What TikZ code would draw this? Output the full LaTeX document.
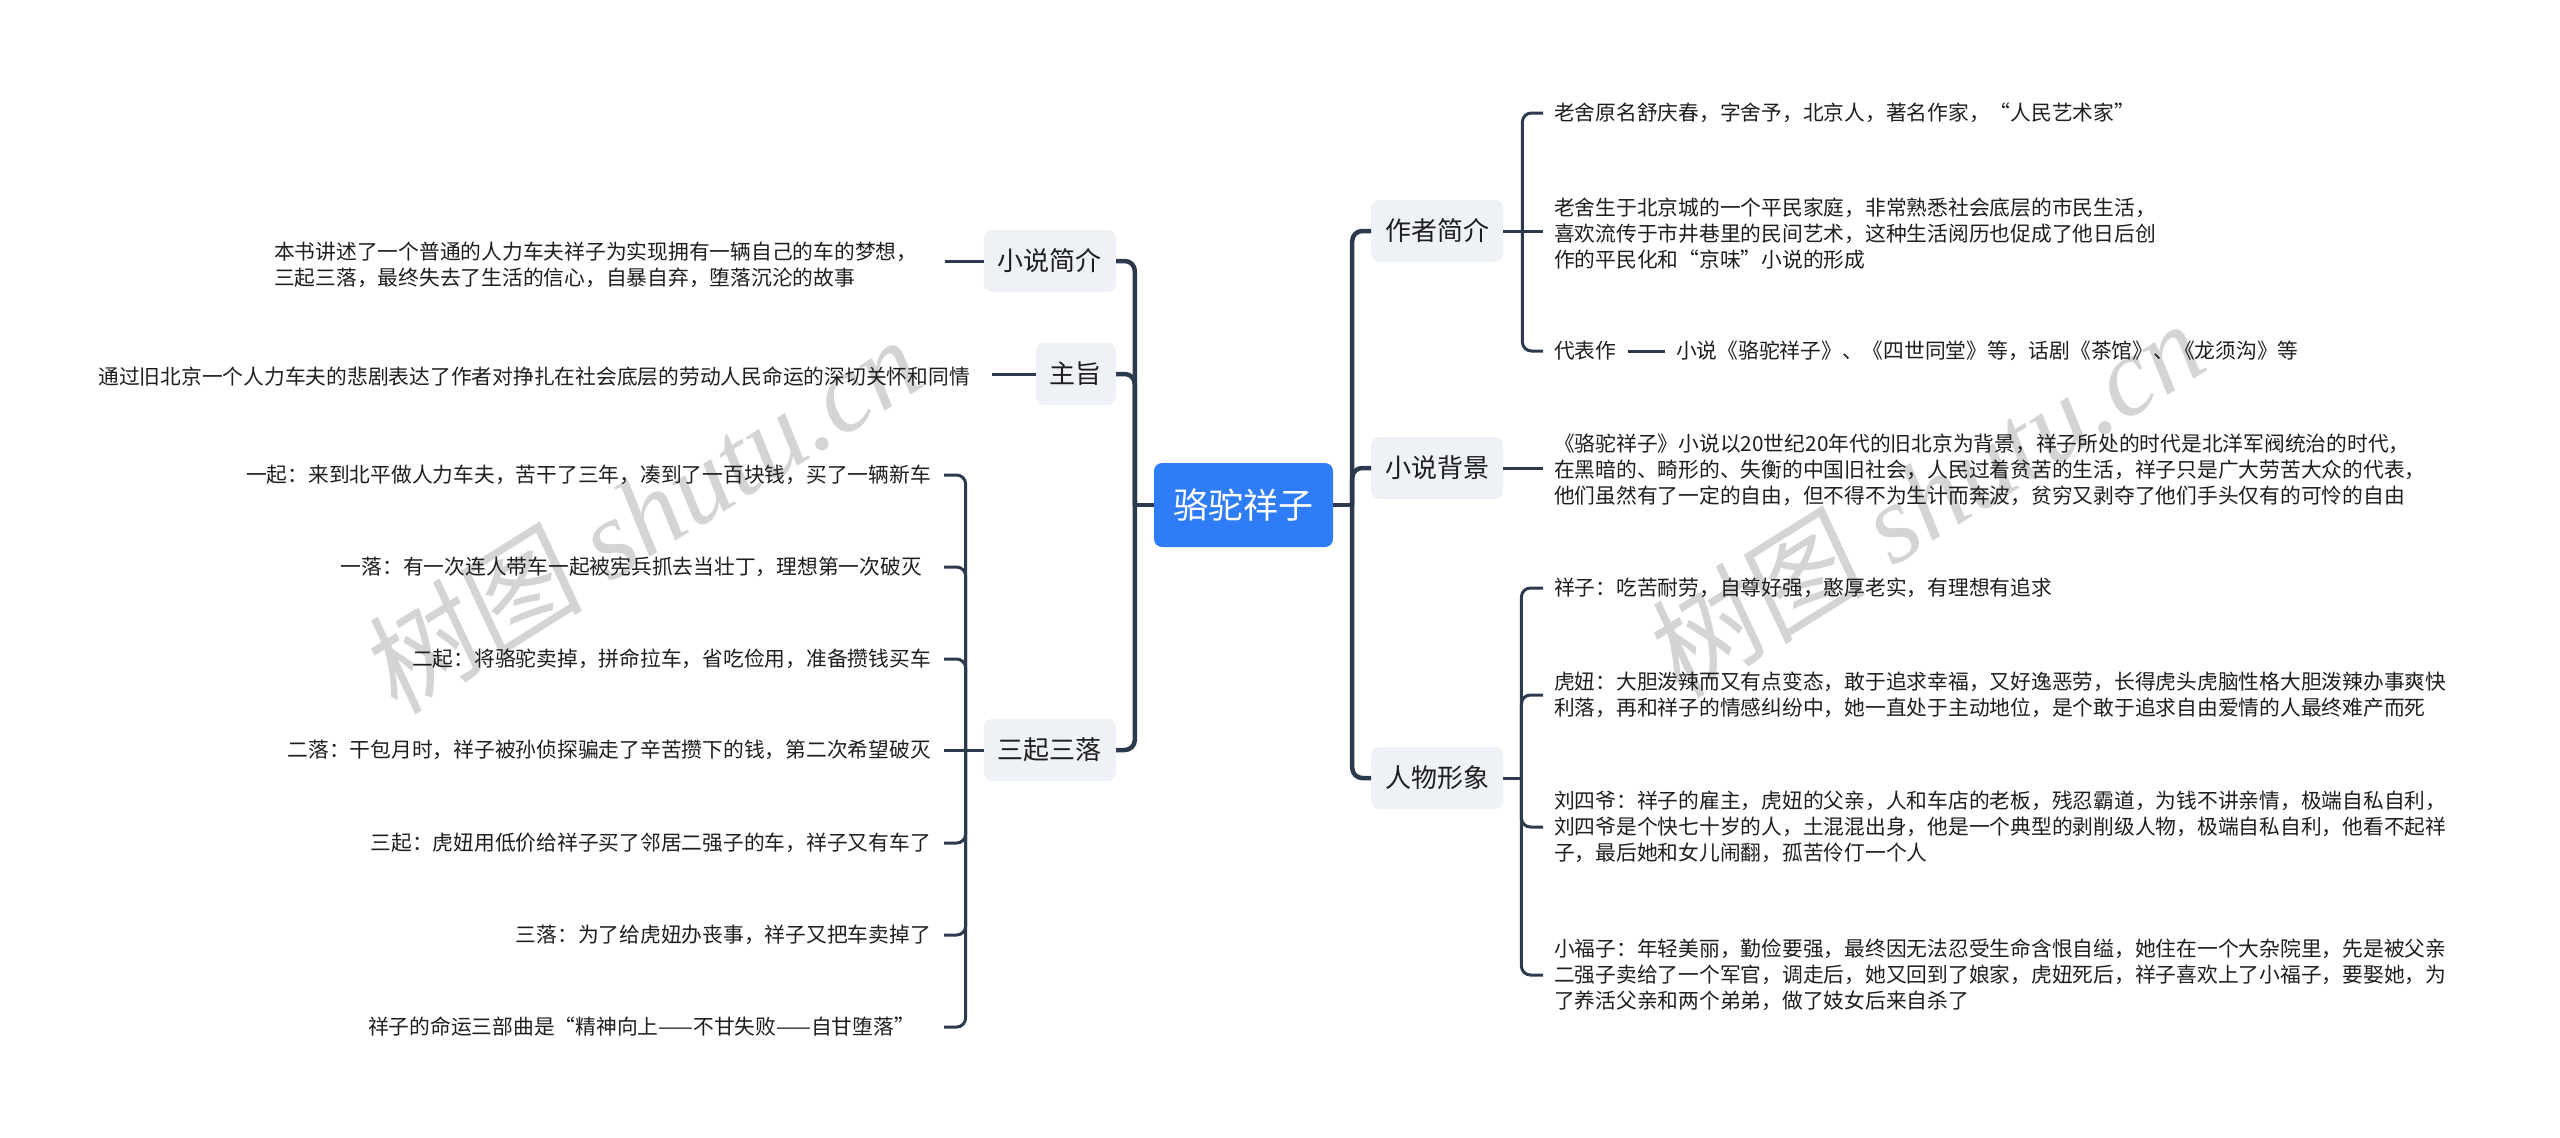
\documentclass[tikz,border=0pt]{standalone}
\usepackage{fontspec}
\newfontfamily\cjk{Noto Sans CJK SC}
\newfontfamily\wmcjk[FakeSlant=0.12]{Noto Sans CJK SC}
\newfontfamily\wmlat{Liberation Serif}
\usetikzlibrary{calc}
\definecolor{rootblue}{HTML}{2F7DF6}
\definecolor{topicfill}{HTML}{EEF1F5}
\definecolor{linecol}{HTML}{2C3A4D}
\definecolor{txt}{HTML}{1E1E1E}
\definecolor{wmgray}{HTML}{D4D4D4}
\begin{document}
\begin{tikzpicture}[x=1pt,y=-1pt,
  rootnode/.style={fill=rootblue, rounded corners=8pt, minimum width=179pt, minimum height=84pt, text=white, font=\cjk\fontsize{35}{40}\selectfont, inner sep=0pt},
  topic/.style={fill=topicfill, rounded corners=8pt, minimum height=62pt, inner xsep=14pt, text=txt, font=\cjk\fontsize{26}{30}\selectfont},
  leaf/.style={inner xsep=11pt, inner ysep=2pt, text=txt, align=left, font=\cjk\fontsize{20.75}{26}\selectfont},
  leafr/.style={leaf, inner xsep=13pt, align=right},
  mainline/.style={draw=linecol, line width=4.5pt, rounded corners=10pt},
  subline/.style={draw=linecol, line width=3pt, rounded corners=9pt},
  wm/.style={text=wmgray, rotate=32, inner sep=0pt}
]
\useasboundingbox (0,0) rectangle (2560,1138);

% watermarks
\node[wm] (wm1) at (640,514) {\wmcjk\fontsize{112}{112}\selectfont 树图\hspace{0.25em}\wmlat\itshape shutu.cn};
\node[wm] (wm2) at (1923,498) {\wmcjk\fontsize{112}{112}\selectfont 树图\hspace{0.25em}\wmlat\itshape shutu.cn};

% root
\node[rootnode] (root) at (1243.5,505) {骆驼祥子};

% right topics
\node[topic, anchor=west] (a1) at (1371,231) {作者简介};
\node[topic, anchor=west] (a2) at (1371,468) {小说背景};
\node[topic, anchor=west] (a3) at (1371,778) {人物形象};

% left topics
\node[topic, anchor=east] (b1) at (1116,261) {小说简介};
\node[topic, anchor=east] (b2) at (1116,374) {主旨};
\node[topic, anchor=east] (b3) at (1116,750) {三起三落};

% right leaves
\node[leaf, anchor=west] (c11) at (1543,113) {老舍原名舒庆春，字舍予，北京人，著名作家，“人民艺术家”};
\node[leaf, anchor=west] (c12) at (1543,234) {老舍生于北京城的一个平民家庭，非常熟悉社会底层的市民生活，\\喜欢流传于市井巷里的民间艺术，这种生活阅历也促成了他日后创\\作的平民化和“京味”小说的形成};
\node[leaf, anchor=west] (c13) at (1543,351) {代表作};
\node[leaf, anchor=west] (c14) at (1665,351) {小说《骆驼祥子》、《四世同堂》等，话剧《茶馆》、《龙须沟》等};
\node[leaf, anchor=west] (c21) at (1543,470) {《骆驼祥子》小说以20世纪20年代的旧北京为背景，祥子所处的时代是北洋军阀统治的时代，\\在黑暗的、畸形的、失衡的中国旧社会，人民过着贫苦的生活，祥子只是广大劳苦大众的代表，\\他们虽然有了一定的自由，但不得不为生计而奔波，贫穷又剥夺了他们手头仅有的可怜的自由};
\node[leaf, anchor=west] (c31) at (1543,588) {祥子：吃苦耐劳，自尊好强，憨厚老实，有理想有追求};
\node[leaf, anchor=west] (c32) at (1543,695) {虎妞：大胆泼辣而又有点变态，敢于追求幸福，又好逸恶劳，长得虎头虎脑性格大胆泼辣办事爽快\\利落，再和祥子的情感纠纷中，她一直处于主动地位，是个敢于追求自由爱情的人最终难产而死};
\node[leaf, anchor=west] (c33) at (1543,827) {刘四爷：祥子的雇主，虎妞的父亲，人和车店的老板，残忍霸道，为钱不讲亲情，极端自私自利，\\刘四爷是个快七十岁的人，土混混出身，他是一个典型的剥削级人物，极端自私自利，他看不起祥\\子，最后她和女儿闹翻，孤苦伶仃一个人};
\node[leaf, anchor=west] (c34) at (1543,975) {小福子：年轻美丽，勤俭要强，最终因无法忍受生命含恨自缢，她住在一个大杂院里，先是被父亲\\二强子卖给了一个军官，调走后，她又回到了娘家，虎妞死后，祥子喜欢上了小福子，要娶她，为\\了养活父亲和两个弟弟，做了妓女后来自杀了};

% left leaves
\node[leaf, anchor=west] (d11) at (263,265) {本书讲述了一个普通的人力车夫祥子为实现拥有一辆自己的车的梦想，\\三起三落，最终失去了生活的信心，自暴自弃，堕落沉沦的故事};
\node[leaf, anchor=east] (d21) at (981,377) {通过旧北京一个人力车夫的悲剧表达了作者对挣扎在社会底层的劳动人民命运的深切关怀和同情};
\node[leafr, anchor=east] (d31) at (944,475) {一起：来到北平做人力车夫，苦干了三年，凑到了一百块钱，买了一辆新车};
\node[leafr, anchor=east] (d32) at (944,567) {一落：有一次连人带车一起被宪兵抓去当壮丁，理想第一次破灭\hspace{9pt}};
\node[leafr, anchor=east] (d33) at (944,659) {二起：将骆驼卖掉，拼命拉车，省吃俭用，准备攒钱买车};
\node[leafr, anchor=east] (d34) at (944,750) {二落：干包月时，祥子被孙侦探骗走了辛苦攒下的钱，第二次希望破灭};
\node[leafr, anchor=east] (d35) at (944,843) {三起：虎妞用低价给祥子买了邻居二强子的车，祥子又有车了};
\node[leafr, anchor=east] (d36) at (944,935) {三落：为了给虎妞办丧事，祥子又把车卖掉了};
\node[leafr, anchor=east] (d37) at (944,1027) {祥子的命运三部曲是“精神向上——不甘失败——自甘堕落”\hspace{16pt}};

% junction coordinates
\coordinate (jr) at ($(root.east)+(19,0)$);
\coordinate (jl) at ($(root.west)+(-19,0)$);
\coordinate (ja1) at ($(a1.east)+(19,0)$);
\coordinate (ja3) at ($(a3.east)+(18,0)$);
\coordinate (jb3) at ($(b3.west)+(-18,0)$);

% main connectors
\draw[mainline] (root.east) -- (jr);
\draw[mainline] (jr) |- (a1.west);
\draw[mainline] (jr) |- (a2.west);
\draw[mainline] (jr) |- (a3.west);
\draw[mainline] (root.west) -- (jl);
\draw[mainline] (jl) |- (b1.east);
\draw[mainline] (jl) |- (b2.east);
\draw[mainline] (jl) |- (b3.east);

% right sub connectors
\draw[subline] (a1.east) -- (a1.east -| c12.west);
\draw[subline] (c11.west) -| (ja1) |- (c13.west);
\draw[subline] (c13.east) -- (c14.west);
\draw[subline] (a2.east) -- (a2.east -| c21.west);
\draw[subline] (a3.east) -- (ja3);
\draw[subline] (c31.west) -| (ja3) |- (c34.west);
\draw[subline] (c32.west) -| (ja3);
\draw[subline] (c33.west) -| (ja3);

% left sub connectors
\draw[subline, shorten >=16pt] (b1.west) -- (b1.west -| d11.east);
\draw[subline, shorten >=11pt] (b2.west) -- (b2.west -| d21.east);
\draw[subline] (b3.west) -- (b3.west -| d34.east);
\draw[subline] (d31.east) -| (jb3) |- (d37.east);
\draw[subline] (d32.east) -| (jb3);
\draw[subline] (d33.east) -| (jb3);
\draw[subline] (d35.east) -| (jb3);
\draw[subline] (d36.east) -| (jb3);
\end{tikzpicture}
\end{document}
